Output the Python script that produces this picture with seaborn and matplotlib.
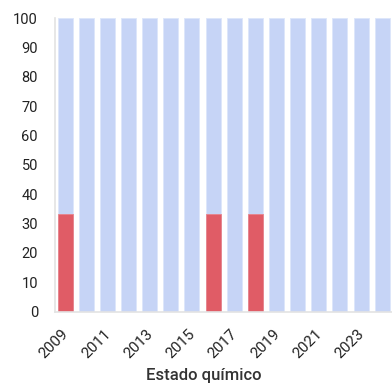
import numpy as np
import pandas as pd
import matplotlib
matplotlib.use("Agg")
import matplotlib.pyplot as plt
import matplotlib.transforms as mtransforms
import seaborn as sns

# percentages per year
years = [str(y) for y in range(2009, 2025)]
malo = [33.3, 0, 0, 0, 0, 0, 0, 33.3, 0, 33.3, 0, 0, 0, 0, 0, 0]
bueno = [66.7, 100, 100, 100, 100, 100, 100, 66.7, 100, 66.7, 100, 100, 100, 100, 100, 100]

df = pd.DataFrame({"year": years, "malo": malo, "bueno": bueno})
df["total"] = df["malo"] + df["bueno"]

sns.set_style("white")
plt.rcParams["font.family"] = ["Roboto", "DejaVu Sans"]

fig = plt.figure(figsize=(3.92, 3.83), dpi=100)
ax = fig.add_axes([54.6 / 392, (383 - 311.7) / 383, 338.1 / 392, 293.7 / 383])

sns.barplot(data=df, x="year", y="total", color="#c6d4f6", saturation=1,
            width=0.71, edgecolor="#dde6fa", linewidth=0.6, ax=ax)
sns.barplot(data=df, x="year", y="malo", color="#e05c66", saturation=1,
            width=0.71, edgecolor="#e8838b", linewidth=0.6, ax=ax)

ax.set_xlim(-0.5, len(years) - 0.5)
ax.set_ylim(0, 100)
ax.set_yticks(range(0, 101, 10))
ax.set_xticks(range(0, len(years), 2))
ax.set_xticklabels(years[::2], rotation=45, ha="right")

ax.tick_params(axis="both", length=0, labelsize=10.5, labelcolor="#222222")
ax.tick_params(axis="y", pad=12)
ax.tick_params(axis="x", pad=11, labelsize=11)

# nudge rotated year labels to the right
offset = mtransforms.ScaledTranslation(6 / 100, 0, fig.dpi_scale_trans)
for lbl in ax.get_xticklabels():
    lbl.set_transform(lbl.get_transform() + offset)

ax.set_ylabel("")
ax.set_xlabel("Estado químico", fontsize=12, color="#333333",
              fontweight="medium", va="center")
ax.xaxis.set_label_coords(0.44, -0.216)

for side in ["top", "right"]:
    ax.spines[side].set_visible(False)
for side in ["left", "bottom"]:
    ax.spines[side].set_color("#e3e3e3")
    ax.spines[side].set_linewidth(1.2)

fig.savefig("out.png", dpi=100)
